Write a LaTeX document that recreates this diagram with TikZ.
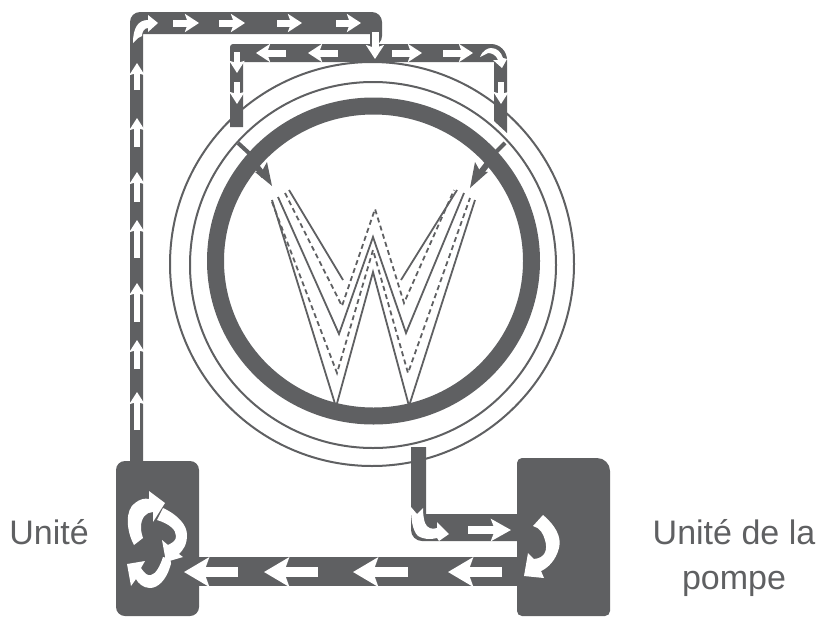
\documentclass[tikz,border=0pt]{standalone}
\usepackage{fontspec}
\usepackage{xcolor}
\usetikzlibrary{arrows.meta}
\setmainfont{Liberation Sans}
\definecolor{pipegray}{HTML}{5F6062}

\begin{document}
\begin{tikzpicture}[x=1pt, y=-1pt,
    pipe/.style={fill=pipegray},
    shell/.style={draw=pipegray, line width=2pt},
    spray/.style={draw=pipegray, line width=1.8pt, line join=miter},
    spraydash/.style={spray, dash pattern=on 5pt off 3.5pt},
    flow/.style={draw=white, line width=7pt, -{Stealth[length=14pt, width=18pt, inset=3pt]}},
    flowthin/.style={draw=white, line width=5.5pt, -{Stealth[length=12pt, width=15pt, inset=2pt]}},
    flowmid/.style={draw=white, line width=8pt, -{Stealth[length=20pt, width=22pt, inset=4pt]}},
    flowbig/.style={draw=white, line width=10pt, -{Stealth[length=25pt, width=29pt, inset=5pt]}},
    swirl/.style={fill=white},
    label/.style={text=pipegray, font=\fontsize{34}{45}\selectfont, align=center}]
    \useasboundingbox (0,0) rectangle (818,616);

    % drum
    \draw[shell] (372,264) circle[radius=202pt];
    \draw[shell] (373,265) circle[radius=183pt];
    \draw[draw=pipegray, line width=17pt] (373.5,261) ellipse[x radius=158pt, y radius=155pt];

    % spray pattern
    \draw[spray] (272,200) -- (336,407) -- (373,272) -- (409,406) -- (475,200);
    \draw[spraydash] (272,202) -- (337,373) -- (373,250) -- (408,373) -- (470,198);
    \draw[spray] (278,197) -- (339,334) -- (373,237) -- (406,333) -- (464,193);
    \draw[spraydash] (285,193) -- (342,306) -- (375,209) -- (404,303) -- (454,190);
    \draw[spray] (289,190) -- (343,280);
    \draw[spray] (401,280) -- (457,190);

    % nozzles
    \draw[draw=pipegray, line width=4pt] (238,143) -- (250,154);
    \draw[draw=pipegray, line width=4pt] (505,143) -- (493,155);
    \draw[draw=pipegray, line width=6pt] (250,158) -- (264,176);
    \draw[draw=pipegray, line width=6pt] (492,158) -- (478,176);
    \fill[pipe] (272,186) -- (267,162) -- (262,171) -- (255,172) -- cycle;
    \fill[pipe] (470,188) -- (475,162) -- (480,171) -- (488,172) -- cycle;

    % pipes
    \fill[pipe, rounded corners=10pt] (130,461) -- (130,12) -- (382,12) -- (382,46) [sharp corners] -- (370,46) -- (370,34) -- (143,34) -- (143,461) -- cycle;
    \fill[pipe] (230,127) [rounded corners=3pt] -- (230,44) [rounded corners=16pt] -- (507,44) [sharp corners] -- (507,133) -- (494,121) -- (494,62) -- (243,62) -- (243,127) -- cycle;
    \fill[pipe] (411,447) [rounded corners=11pt] -- (411,541) [sharp corners] -- (518,541) -- (518,514) -- (426,514) -- (426,447) -- cycle;
    \fill[pipe] (195,557) rectangle (520,586);

    % units
    \fill[pipe, rounded corners=9pt] (116,461) -- (116,616) -- (199,616) -- (199,461) -- cycle;
    \fill[pipe] (517,616) [rounded corners=5pt] -- (517,458) [rounded corners=13pt] -- (610,458) [rounded corners=5pt] -- (610,616) [rounded corners=5pt] -- cycle;

    % arrows in the long pipe
    \draw[flowthin] (137,430) -- (137,392);
    \draw[flowthin] (137,369) -- (137,340);
    \draw[flowthin] (137,322) -- (137,283);
    \draw[flowthin] (137,258) -- (137,220);
    \draw[flowthin] (137,202) -- (137,172);
    \draw[flowthin] (137,147) -- (137,118);
    \draw[flowthin] (137,90) -- (137,63);
    \fill[swirl] (133,43) .. controls (133,28) and (138,20) .. (148,20) -- (148,15) -- (158,23) -- (148,32) -- (148,28) .. controls (144,28) and (142,32) .. (142,36) -- (138,38) -- cycle;
    \draw[flow] (173,23) -- (199,23);
    \draw[flow] (219,23) -- (245,23);
    \draw[flow] (277,23) -- (302,23);
    \draw[flow] (336,23) -- (361,23);
    \draw[flow] (375,32) -- (375,59);

    % arrows in the upper pipe
    \draw[flow] (338,53) -- (308,53);
    \draw[flow] (286,53) -- (256,53);
    \draw[flowthin] (237,52) -- (237,73);
    \draw[flowthin] (237,82) -- (237,104);
    \draw[flow] (392,53) -- (422,53);
    \draw[flow] (443,53) -- (473,53);
    \fill[swirl] (480,57) .. controls (483,50) and (488,48) .. (491,48) .. controls (497,48) and (501,52) .. (503,58) -- (507,59) -- (502,68) -- (493,60) -- (498,60) .. controls (496,55) and (492,53) .. (488,53) -- cycle;
    \draw[flowthin] (501,82) -- (501,104);

    % arrows in the return pipes
    \fill[swirl] (411,507) -- (417,514) -- (423,508) .. controls (423,515) and (424,520) .. (425,523) .. controls (427,528) and (432,530) .. (437,528) -- (437,522) -- (449,534) -- (439,541) -- (437,538) .. controls (430,540) and (423,539) .. (418,536) .. controls (412,530) and (411,518) .. (411,507) -- cycle;
    \draw[flowmid] (468,530) -- (511,530);
    \draw[flowbig] (502,572) -- (448,572);
    \draw[flowbig] (408,572) -- (353,572);
    \draw[flowbig] (318,572) -- (264,572);
    \draw[flowbig] (238,572) -- (184,572);

    % swirl arrows
    \fill[swirl] (543,515) .. controls (555,525) and (562,537) .. (559,548) .. controls (556,560) and (548,568) .. (541,571) -- (544,578) -- (524,576) -- (528,553) -- (534,559) .. controls (545,558) and (548,550) .. (545,540) .. controls (543,533) and (540,528) .. (533,526) -- cycle;
    \fill[swirl] (134,545) .. controls (126,530) and (125,510) .. (135,503) .. controls (140,499) and (145,498) .. (149,499) -- (149,491) -- (165,503) -- (153,522) -- (153,512) .. controls (146,512) and (141,518) .. (141,527) .. controls (141,532) and (142,535) .. (143,538) -- cycle;
    \fill[swirl] (163,508) .. controls (178,515) and (187,525) .. (187,535) .. controls (187,545) and (183,550) .. (179,554) -- (183,557) -- (166,562) -- (162,540) -- (168,545) .. controls (174,542) and (176,540) .. (176,536) .. controls (176,530) and (170,524) .. (157,520) -- cycle;
    \fill[swirl] (163,557) .. controls (172,559) and (172,562) .. (170,567) .. controls (166,580) and (158,588) .. (150,588) .. controls (143,588) and (138,583) .. (136,579) -- (131,586) -- (127,564) -- (145,561) -- (141,568) .. controls (145,574) and (148,576) .. (151,575) .. controls (156,574) and (160,566) .. (163,557) -- cycle;

    % labels
    \node[label] (unit) at (49,532) {Unité};
    \node[label] (pump) at (734,558) {Unité de la\\pompe};
\end{tikzpicture}
\end{document}
